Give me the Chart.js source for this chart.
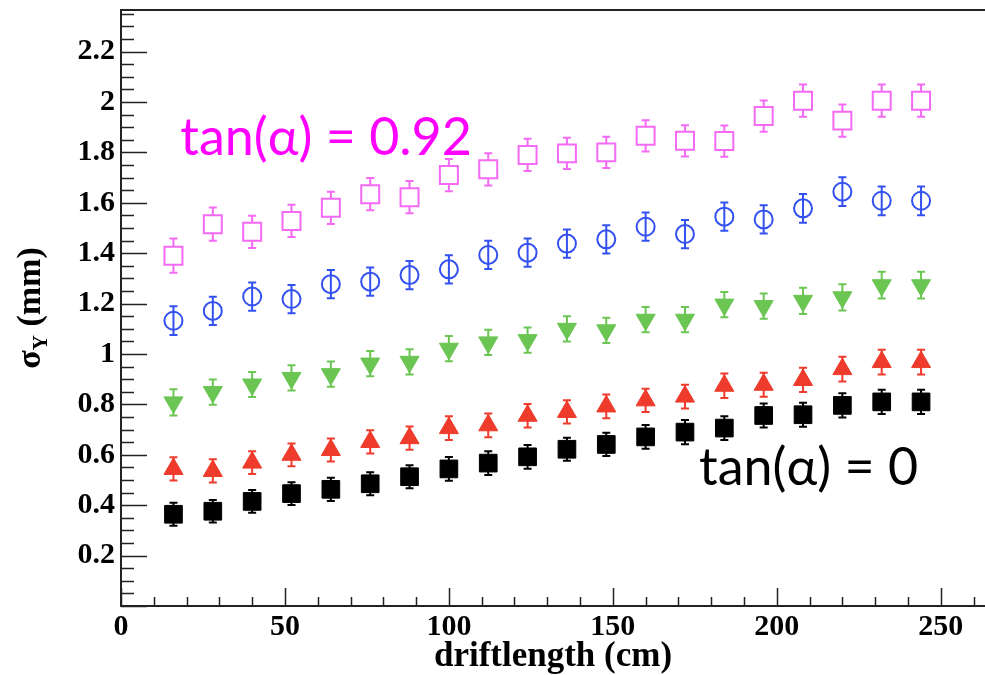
<!DOCTYPE html>
<html>
<head>
<meta charset="utf-8">
<script src="https://cdn.jsdelivr.net/npm/chart.js@4"></script>
<style>
  body { margin: 0; background: #fff; }
  #wrap { width: 985px; height: 675px; }
</style>
</head>
<body>
<div id="wrap"><canvas id="sigma_canvas"></canvas></div>
<script>
// drift length of each measurement point (cm)
var drift_length = [16, 28, 40, 52, 64, 76, 88, 100, 112, 124, 136, 148, 160, 172, 184, 196, 208, 220, 232, 244];

// sigma_Y (mm), one array per track angle
var sigma_tan092 = [1.39, 1.515, 1.485, 1.528, 1.58, 1.634, 1.622, 1.71, 1.733, 1.79, 1.796, 1.80, 1.866, 1.846, 1.845, 1.944, 2.005, 1.926, 2.005, 2.005];
var sigma_blue = [1.132, 1.171, 1.228, 1.218, 1.277, 1.287, 1.313, 1.336, 1.393, 1.402, 1.438, 1.455, 1.505, 1.476, 1.545, 1.534, 1.578, 1.644, 1.608, 1.608];
var sigma_green = [0.808, 0.849, 0.879, 0.905, 0.92, 0.962, 0.969, 1.021, 1.046, 1.055, 1.10, 1.094, 1.136, 1.136, 1.196, 1.19, 1.211, 1.225, 1.273, 1.273];
var sigma_red = [0.544, 0.536, 0.569, 0.600, 0.619, 0.651, 0.666, 0.706, 0.717, 0.755, 0.770, 0.792, 0.816, 0.831, 0.874, 0.878, 0.897, 0.940, 0.968, 0.968];
var sigma_tan0 = [0.364, 0.376, 0.415, 0.446, 0.463, 0.485, 0.513, 0.544, 0.567, 0.592, 0.622, 0.641, 0.671, 0.690, 0.706, 0.756, 0.759, 0.796, 0.810, 0.810];

// error bars (half length, mm)
var err_tan092 = [0.068, 0.066, 0.064, 0.064, 0.064, 0.064, 0.064, 0.064, 0.064, 0.064, 0.062, 0.062, 0.062, 0.062, 0.062, 0.062, 0.064, 0.064, 0.064, 0.064];
var err_blue = [0.057, 0.056, 0.056, 0.056, 0.056, 0.056, 0.056, 0.056, 0.056, 0.056, 0.056, 0.056, 0.056, 0.056, 0.056, 0.056, 0.057, 0.057, 0.057, 0.057];
var err_green = [0.052, 0.05, 0.05, 0.05, 0.05, 0.05, 0.05, 0.05, 0.05, 0.05, 0.05, 0.05, 0.05, 0.05, 0.05, 0.05, 0.052, 0.052, 0.053, 0.053];
var err_red = [0.046, 0.046, 0.045, 0.045, 0.046, 0.046, 0.046, 0.047, 0.047, 0.047, 0.046, 0.047, 0.046, 0.047, 0.049, 0.048, 0.048, 0.049, 0.049, 0.049];
var err_tan0 = [0.046, 0.045, 0.045, 0.045, 0.046, 0.046, 0.046, 0.047, 0.047, 0.047, 0.046, 0.046, 0.047, 0.048, 0.047, 0.048, 0.048, 0.048, 0.048, 0.048];

var x_ticks = [0, 50, 100, 150, 200, 250];
var y_ticks = [0.2, 0.4, 0.6, 0.8, 1, 1.2, 1.4, 1.6, 1.8, 2, 2.2];

var label_font = "'Liberation Serif', 'Times New Roman', serif";

function points(ys, errs) {
    var out = [];
    for (var i = 0; i < drift_length.length; i++) {
        out.push({ x: drift_length[i], y: ys[i], err: errs[i] });
    }
    return out;
}

// ROOT style ticks pointing into the frame, plus the top frame line
var frame_ticks = {
    id: 'frame_ticks',
    afterDraw: function (chart) {
        var ctx = chart.ctx, a = chart.chartArea;
        var xs = chart.scales.x, ys = chart.scales.y;
        ctx.save();
        ctx.strokeStyle = '#222';
        ctx.lineWidth = 1.5;
        ctx.beginPath();
        for (var v = 0; v <= xs.max; v += 10) {
            var px = Math.round(xs.getPixelForValue(v)) + 0.5;
            var len = v % 50 === 0 ? 18 : 9;
            ctx.moveTo(px, a.bottom);
            ctx.lineTo(px, a.bottom - len);
        }
        for (var i = 0; i * 0.05 <= ys.max; i++) {
            var py = Math.round(ys.getPixelForValue(i * 0.05)) + 0.5;
            var ylen = i % 4 === 0 ? 26 : 13;
            ctx.moveTo(a.left, py);
            ctx.lineTo(a.left + ylen, py);
        }
        ctx.stroke();
        ctx.lineWidth = 2;
        ctx.beginPath();
        ctx.moveTo(a.left, a.top);
        ctx.lineTo(a.right, a.top);
        ctx.stroke();
        ctx.restore();
    }
};

// error bars with small caps, drawn through the scales
var error_bars = {
    id: 'error_bars',
    beforeDatasetsDraw: function (chart) {
        var ctx = chart.ctx;
        var xs = chart.scales.x, ys = chart.scales.y;
        ctx.save();
        chart.data.datasets.forEach(function (ds) {
            ctx.strokeStyle = ds.borderColor;
            ctx.lineWidth = 2;
            var gap = ds.barGap || 0;
            ds.data.forEach(function (p) {
                var px = xs.getPixelForValue(p.x);
                var pc = ys.getPixelForValue(p.y);
                var top = ys.getPixelForValue(p.y + p.err);
                var bot = ys.getPixelForValue(p.y - p.err);
                ctx.beginPath();
                ctx.moveTo(px, top);
                ctx.lineTo(px, pc - gap);
                ctx.moveTo(px, pc + gap);
                ctx.lineTo(px, bot);
                ctx.moveTo(px - 4, top);
                ctx.lineTo(px + 4, top);
                ctx.moveTo(px - 4, bot);
                ctx.lineTo(px + 4, bot);
                ctx.stroke();
            });
        });
        ctx.restore();
    }
};

// sigma_Y axis title with subscript and the two tan(alpha) notes
var texts = {
    id: 'texts',
    afterDraw: function (chart) {
        var ctx = chart.ctx, a = chart.chartArea;
        var xs = chart.scales.x, ys = chart.scales.y;
        ctx.save();
        ctx.fillStyle = '#000';
        ctx.textBaseline = 'alphabetic';
        ctx.translate(40, (a.top + a.bottom) / 2);
        ctx.rotate(-Math.PI / 2);
        var big = 'bold 34px ' + label_font, small = 'bold 21px ' + label_font;
        ctx.font = big;
        var w1 = ctx.measureText('σ').width;
        var w3 = ctx.measureText(' (mm)').width;
        ctx.font = small;
        var w2 = ctx.measureText('Y').width;
        var x0 = -(w1 + w2 + w3) / 2;
        ctx.font = big;
        ctx.fillText('σ', x0, 0);
        ctx.font = small;
        ctx.fillText('Y', x0 + w1, 7);
        ctx.font = big;
        ctx.fillText(' (mm)', x0 + w1 + w2, 0);
        ctx.restore();

        ctx.save();
        ctx.font = "52px 'Lato', 'Noto Sans', sans-serif";
        ctx.textBaseline = 'alphabetic';
        ctx.fillStyle = '#ff00ff';
        ctx.fillText('tan(α) = 0.92', xs.getPixelForValue(18.1), ys.getPixelForValue(1.79));
        ctx.fillStyle = '#000';
        ctx.fillText('tan(α) = 0', xs.getPixelForValue(176.3), ys.getPixelForValue(0.48));
        ctx.restore();
    }
};

function sigma_chart() {
    var ctx = document.getElementById('sigma_canvas');
    new Chart(ctx, {
        type: 'scatter',
        data: {
            datasets: [{
                label: 'tan(α) = 0.92',
                data: points(sigma_tan092, err_tan092),
                pointStyle: 'rect',
                pointRadius: 12.7,
                borderColor: '#f46af4',
                backgroundColor: 'rgba(0,0,0,0)',
                borderWidth: 2,
                barGap: 9
            }, {
                label: 'blue',
                data: points(sigma_blue, err_blue),
                pointStyle: 'circle',
                pointRadius: 9,
                borderColor: '#3350f0',
                backgroundColor: 'rgba(0,0,0,0)',
                borderWidth: 2
            }, {
                label: 'green',
                data: points(sigma_green, err_green),
                pointStyle: 'triangle',
                rotation: 180,
                pointRadius: 11,
                borderColor: '#6bc553',
                backgroundColor: '#6bc553',
                borderWidth: 1
            }, {
                label: 'red',
                data: points(sigma_red, err_red),
                pointStyle: 'triangle',
                pointRadius: 11,
                borderColor: '#ee3b2b',
                backgroundColor: '#ee3b2b',
                borderWidth: 1
            }, {
                label: 'tan(α) = 0',
                data: points(sigma_tan0, err_tan0),
                pointStyle: 'rect',
                pointRadius: 12.5,
                borderColor: '#000',
                backgroundColor: '#000',
                borderWidth: 1
            }]
        },
        options: {
            responsive: true,
            maintainAspectRatio: false,
            animation: false,
            events: [],
            layout: { autoPadding: false, padding: { top: 10, right: 0, bottom: 0, left: 0 } },
            plugins: { legend: { display: false }, tooltip: { enabled: false } },
            elements: { point: { hoverRadius: 0 } },
            scales: {
                x: {
                    type: 'linear',
                    min: 0,
                    max: 263.5,
                    afterFit: function (s) {
                        s.height = 69;
                        s.paddingLeft = 0;
                        s.paddingRight = 0;
                    },
                    afterBuildTicks: function (s) { s.ticks = x_ticks.map(function (v) { return { value: v }; }); },
                    grid: { display: false, drawTicks: false },
                    border: { display: true, color: '#222', width: 2 },
                    ticks: {
                        color: '#000',
                        padding: 3,
                        maxRotation: 0,
                        font: { family: label_font, size: 30, weight: 'bold' },
                        callback: function (v) { return String(v); }
                    },
                    title: {
                        display: true,
                        text: 'driftlength (cm)',
                        color: '#000',
                        padding: { top: 0, bottom: 1 },
                        font: { family: label_font, size: 35, weight: 'bold', lineHeight: 1 }
                    }
                },
                y: {
                    type: 'linear',
                    min: 0,
                    max: 2.365,
                    afterFit: function (s) {
                        s.width = 121;
                        s.paddingTop = 0;
                        s.paddingBottom = 0;
                    },
                    afterBuildTicks: function (s) { s.ticks = y_ticks.map(function (v) { return { value: v }; }); },
                    grid: { display: false, drawTicks: false },
                    border: { display: true, color: '#222', width: 2 },
                    ticks: {
                        color: '#000',
                        padding: 6,
                        font: { family: label_font, size: 30, weight: 'bold' },
                        callback: function (v) { return String(Math.round(v * 10) / 10); }
                    }
                }
            }
        },
        plugins: [error_bars, frame_ticks, texts]
    });
}

sigma_chart();
</script>
</body>
</html>
